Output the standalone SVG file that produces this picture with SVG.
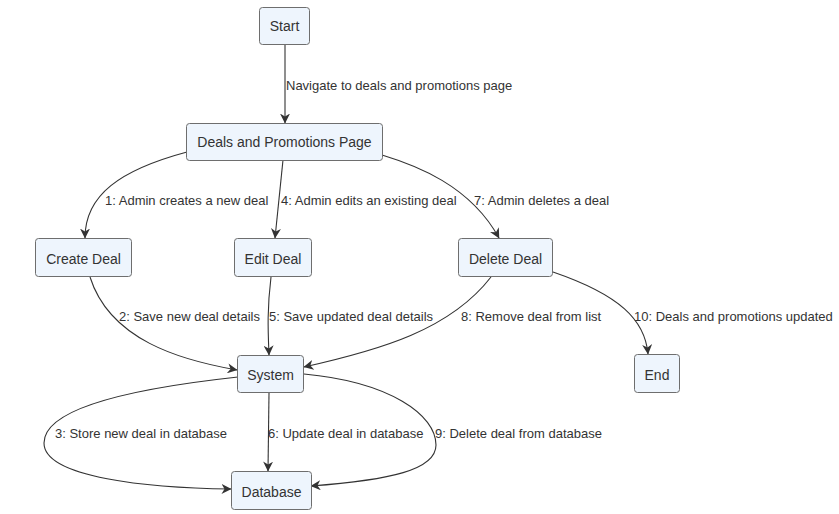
<svg xmlns="http://www.w3.org/2000/svg" width="839" height="514" viewBox="0 0 839 514">
<style>
.node rect{fill:#eef5fd;stroke:#6e6e6e;stroke-width:1}
.node text{font-family:"Liberation Sans",Arial,sans-serif;font-size:14px;fill:#333;text-anchor:middle;dominant-baseline:central}
.edge{fill:none;stroke:#333;stroke-width:1.1;marker-end:url(#arr)}
.lbl{font-family:"Liberation Sans",Arial,sans-serif;font-size:13px;fill:#333;dominant-baseline:central}
</style>
<defs>
<marker id="arr" viewBox="0 0 10 10" refX="9.5" refY="5" markerWidth="10" markerHeight="10" markerUnits="userSpaceOnUse" orient="auto">
<path d="M0,0 L10,5 L0,10 L3,5 z" fill="#333"/>
</marker>
</defs>
<rect width="839" height="514" fill="#fff"/>
<g id="connectors">
<path class="edge" d="M285,44 L285,123"/>
<path class="edge" d="M187,152 C120,170 85,195 85,238"/>
<path class="edge" d="M283,160 L275,238"/>
<path class="edge" d="M382,155 C415,165 470,185 499,238"/>
<path class="edge" d="M90,277 C110,340 180,360 237,370"/>
<path class="edge" d="M271,277 C267,310 268,330 269,355"/>
<path class="edge" d="M491,277 C450,330 380,350 304,367"/>
<path class="edge" d="M553,272 C620,295 645,320 648,354"/>
<path class="edge" d="M238,377 C100,392 44,415 44,443 C44,478 150,488 231,489"/>
<path class="edge" d="M269,393 L268,471"/>
<path class="edge" d="M304,374 C390,382 436,415 436,445 C436,470 390,480 311,486"/>
<text class="lbl" x="286" y="85">Navigate to deals and promotions page</text>
<text class="lbl" x="105" y="200">1: Admin creates a new deal</text>
<text class="lbl" x="281" y="200">4: Admin edits an existing deal</text>
<text class="lbl" x="474" y="200">7: Admin deletes a deal</text>
<text class="lbl" x="119" y="316">2: Save new deal details</text>
<text class="lbl" x="269" y="316">5: Save updated deal details</text>
<text class="lbl" x="461" y="316">8: Remove deal from list</text>
<text class="lbl" x="634" y="316">10: Deals and promotions updated</text>
<text class="lbl" x="55" y="433">3: Store new deal in database</text>
<text class="lbl" x="268" y="433">6: Update deal in database</text>
<text class="lbl" x="435" y="433">9: Delete deal from database</text>
</g>
<g id="start" class="node"><rect x="259.5" y="7.5" width="50" height="37" rx="3"/><text x="284.5" y="26">Start</text></g>
<g id="deals" class="node"><rect x="186.5" y="123.5" width="196" height="37" rx="3"/><text x="284.5" y="142">Deals and Promotions Page</text></g>
<g id="create" class="node"><rect x="35.5" y="238.5" width="96" height="38" rx="3"/><text x="83.5" y="259">Create Deal</text></g>
<g id="edit" class="node"><rect x="234.5" y="238.5" width="77" height="38" rx="3"/><text x="273" y="259">Edit Deal</text></g>
<g id="delete" class="node"><rect x="458.5" y="238.5" width="94" height="38" rx="3"/><text x="505.5" y="259">Delete Deal</text></g>
<g id="end" class="node"><rect x="634.5" y="354.5" width="45" height="38" rx="3"/><text x="657" y="375">End</text></g>
<g id="system" class="node"><rect x="237.5" y="355.5" width="66" height="37" rx="3"/><text x="270.5" y="375">System</text></g>
<g id="database" class="node"><rect x="231.5" y="471.5" width="80" height="38" rx="3"/><text x="271.5" y="492">Database</text></g>
</svg>
